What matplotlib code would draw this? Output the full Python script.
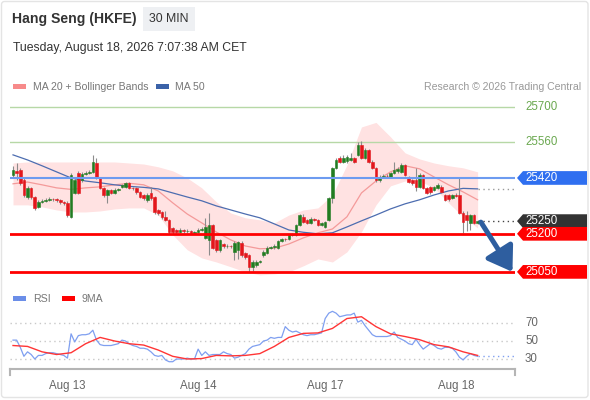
import numpy as np
import matplotlib
matplotlib.use("Agg")
import matplotlib.pyplot as plt
from matplotlib.patches import Rectangle, Polygon, FancyBboxPatch
from matplotlib.transforms import blended_transform_factory

plt.rcParams['font.family'] = ['Liberation Sans', 'DejaVu Sans']

# ---- 30 min candles (Aug 12 night .. Aug 18 morning) ----
opens = [25432, 25448, 25452, 25412, 25345, 25381, 25345, 25306, 25326, 25330,
         25334, 25338, 25336, 25332, 25326, 25322, 25268, 25362, 25440, 25412,
         25436, 25440, 25444, 25480, 25420, 25381, 25353, 25373, 25361, 25373,
         25385, 25385, 25400, 25381, 25381, 25365, 25353, 25334, 25361, 25345,
         25294, 25286, 25266, 25255, 25223, 25215, 25208, 25215, 25210, 25212,
         25204, 25208, 25215, 25184, 25176, 25235, 25176, 25137, 25160, 25150,
         25152, 25130, 25137, 25165, 25125, 25117, 25070, 25078, 25090, 25117,
         25125, 25145, 25147, 25145, 25172, 25180, 25180, 25196, 25196, 25235,
         25266, 25255, 25243, 25259, 25255, 25235, 25227, 25255, 25341, 25460,
         25500, 25483, 25485, 25491, 25497, 25511, 25550, 25500, 25531, 25483,
         25460, 25412, 25424, 25428, 25424, 25440, 25446, 25444, 25471, 25420,
         25412, 25412, 25385, 25432, 25381, 25385, 25373, 25381, 25385, 25353,
         25353, 25341, 25353, 25353, 25282, 25274, 25243, 25274, 25243]
highs = [25468, 25480, 25460, 25420, 25389, 25385, 25350, 25334, 25336, 25340,
         25345, 25342, 25340, 25336, 25330, 25328, 25440, 25420, 25448, 25442,
         25448, 25450, 25511, 25498, 25425, 25385, 25378, 25378, 25380, 25381,
         25398, 25405, 25405, 25386, 25385, 25368, 25358, 25360, 25385, 25350,
         25298, 25290, 25290, 25260, 25228, 25220, 25222, 25220, 25218, 25216,
         25213, 25222, 25225, 25262, 25282, 25240, 25180, 25180, 25165, 25158,
         25156, 25172, 25172, 25170, 25130, 25120, 25095, 25095, 25097, 25135,
         25150, 25152, 25158, 25176, 25185, 25185, 25200, 25204, 25240, 25280,
         25280, 25260, 25265, 25262, 25258, 25248, 25252, 25345, 25465, 25500,
         25505, 25510, 25512, 25520, 25502, 25560, 25565, 25540, 25535, 25490,
         25465, 25430, 25434, 25434, 25445, 25483, 25462, 25478, 25476, 25426,
         25416, 25460, 25440, 25436, 25385, 25390, 25390, 25400, 25392, 25358,
         25357, 25358, 25360, 25420, 25290, 25290, 25280, 25278, 25255]
lows = [25424, 25412, 25393, 25345, 25338, 25338, 25294, 25302, 25320, 25325,
        25330, 25330, 25326, 25318, 25312, 25265, 25262, 25355, 25355, 25405,
        25430, 25435, 25440, 25415, 25375, 25345, 25322, 25355, 25355, 25368,
        25380, 25381, 25375, 25374, 25358, 25340, 25335, 25325, 25335, 25280,
        25275, 25260, 25250, 25200, 25200, 25203, 25203, 25205, 25205, 25198,
        25200, 25204, 25210, 25180, 25117, 25140, 25130, 25130, 25145, 25146,
        25145, 25097, 25100, 25110, 25100, 25050, 25055, 25070, 25085, 25110,
        25120, 25140, 25142, 25140, 25168, 25172, 25176, 25190, 25190, 25230,
        25242, 25238, 25238, 25250, 25230, 25230, 25222, 25250, 25320, 25455,
        25478, 25478, 25480, 25487, 25478, 25505, 25495, 25495, 25478, 25455,
        25405, 25405, 25420, 25420, 25418, 25436, 25440, 25440, 25426, 25400,
        25393, 25370, 25380, 25375, 25355, 25358, 25368, 25378, 25360, 25330,
        25330, 25336, 25345, 25278, 25204, 25210, 25215, 25238, 25238]
closes = [25452, 25440, 25400, 25353, 25381, 25345, 25302, 25326, 25330, 25334,
          25338, 25336, 25332, 25324, 25320, 25275, 25432, 25412, 25362, 25436,
          25440, 25444, 25483, 25420, 25381, 25353, 25373, 25361, 25373, 25375,
          25393, 25400, 25381, 25380, 25365, 25345, 25341, 25353, 25341, 25286,
          25282, 25266, 25255, 25208, 25208, 25208, 25215, 25210, 25212, 25204,
          25208, 25215, 25218, 25227, 25235, 25145, 25137, 25176, 25150, 25152,
          25150, 25165, 25168, 25117, 25109, 25070, 25090, 25090, 25092, 25129,
          25145, 25147, 25152, 25172, 25180, 25178, 25196, 25198, 25235, 25274,
          25247, 25243, 25259, 25255, 25235, 25243, 25247, 25341, 25460, 25491,
          25483, 25500, 25503, 25497, 25483, 25550, 25500, 25531, 25483, 25460,
          25412, 25424, 25428, 25426, 25440, 25452, 25456, 25471, 25432, 25405,
          25400, 25385, 25432, 25381, 25361, 25365, 25385, 25393, 25365, 25334,
          25338, 25353, 25350, 25282, 25247, 25255, 25274, 25243, 25250]

# ---- indicators, read every 4th candle ----
band_idx = list(range(0, 129, 4))
ma20 = [25397, 25404, 25393, 25381, 25375, 25381, 25385, 25393, 25399, 25393,
        25369, 25322, 25278, 25243, 25207, 25176, 25152, 25141, 25143, 25160,
        25184, 25204, 25219, 25267, 25361, 25408, 25444, 25468, 25456, 25424,
        25393, 25365, 25334]
bb_upper = [25479, 25483, 25483, 25483, 25483, 25483, 25483, 25483, 25479, 25475,
            25464, 25448, 25420, 25381, 25326, 25282, 25263, 25255, 25243, 25274,
            25294, 25302, 25353, 25471, 25621, 25639, 25582, 25519, 25495, 25479,
            25468, 25460, 25444]
bb_lower = [25314, 25314, 25306, 25294, 25286, 25286, 25290, 25298, 25302, 25302,
            25274, 25196, 25137, 25105, 25089, 25070, 25050, 25038, 25042, 25050,
            25074, 25101, 25089, 25129, 25208, 25314, 25389, 25408, 25408, 25381,
            25322, 25267, 25223]
ma50 = [25511, 25491, 25468, 25444, 25420, 25408, 25401, 25393, 25387, 25383,
        25377, 25361, 25345, 25330, 25310, 25294, 25278, 25263, 25239, 25215,
        25206, 25200, 25204, 25227, 25251, 25274, 25298, 25318, 25334, 25353,
        25369, 25379, 25377]

rsi = [51, 51, 43, 33, 38, 35, 30, 34, 34, 36, 37, 37, 36, 35, 34, 31, 58, 49, 56, 57,
       57, 58, 62, 51, 46, 45, 45, 45, 46, 47, 51, 50, 47, 45, 44, 42, 42, 41, 38, 34,
       33, 34, 29, 27, 27, 30, 30, 30, 31, 30, 30, 41, 34, 38, 34, 35, 35, 35, 38, 36,
       35, 31, 32, 34, 36, 41, 44, 45, 46, 50, 51, 54, 53, 54, 54, 66, 62, 60, 61, 59,
       57, 56, 57, 57, 58, 59, 75, 81, 83, 81, 77, 78, 79, 79, 81, 71, 73, 67, 62, 57,
       55, 55, 55, 55, 56, 60, 54, 52, 50, 47, 46, 52, 46, 41, 44, 47, 45, 42, 41, 43,
       43, 42, 38, 32, 29, 33, 36, 34, 33]
rsi_ma9 = [45, 44, 38, 35, 37, 47, 54, 50, 47, 45.5, 40, 33, 30, 30.5, 34, 33.5, 34,
           36, 44, 54, 58.5, 59, 64, 75, 77, 66, 58, 55, 51.5, 46, 43.5, 38, 34]

day_ticks = [15, 51, 86, 122]
day_labels = ['Aug 13', 'Aug 14', 'Aug 17', 'Aug 18']

levels_res = [25700, 25560]
level_pivot = 25420
level_last = 25250
levels_sup = [25200, 25050]

GREEN = '#217c21'
RED = '#e3161b'

fig = plt.figure(figsize=(5.9, 4), dpi=100)
ov = fig.add_axes([0, 0, 1, 1])
ov.set_xlim(0, 590)
ov.set_ylim(400, 0)
ov.axis('off')


def px_axes(l, t, r, b):
    a = fig.add_axes([l / 590, 1 - b / 400, (r - l) / 590, (b - t) / 400])
    a.patch.set_alpha(0)
    return a


ax = px_axes(10, 97, 515, 280)
rx = px_axes(10, 300, 515, 369)
xmin, xmax = -0.83, 138.3

# ---- price panel ----
o = np.array(opens)
h = np.array(highs)
l = np.array(lows)
c = np.array(closes)
idx = np.arange(len(c))
col = np.where(c >= o, GREEN, RED)

ax.fill_between(band_idx, bb_lower, bb_upper, color='#ffe2e2', lw=0, zorder=1)
ax.plot(band_idx, ma20, color='#f49a9a', lw=0.9, zorder=2)
ax.plot(band_idx, ma50, color='#4d6db0', lw=0.9, zorder=2)

for v in levels_res:
    ax.axhline(v, color='#b7d8a6', lw=1, zorder=2)

ax.vlines(idx, l, h, color='#8c8c8c', lw=0.8, zorder=3)
ax.bar(idx, np.abs(c - o), bottom=np.minimum(o, c), width=0.72,
       color=col, edgecolor=col, lw=0.4, zorder=4)

ax.axhline(level_pivot, color='#6d9bf0', lw=1.5, zorder=5)
for v in levels_sup:
    ax.axhline(v, color='#ff0000', lw=2, zorder=5)

ax.plot([idx[-1], xmax], [ma50[-1], ma50[-1]], color='#9a9a9a', lw=1,
        ls=(0, (1, 2.5)), zorder=3)
ax.plot([idx[-1], xmax], [level_last, level_last], color='#444444', lw=1,
        ls=(0, (1, 2.5)), zorder=3)

ax.annotate('', xy=(137.6, 25050), xytext=(128.9, 25246),
            arrowprops=dict(arrowstyle='-|>,head_length=0.9,head_width=0.6',
                            color='#2e5e9f', lw=3.6, mutation_scale=16,
                            shrinkA=0, shrinkB=0), zorder=6)

ax.set_xlim(xmin, xmax)
ax.set_ylim(25018, 25739)
ax.set_xticks([])
ax.set_yticks([])
for s in ax.spines.values():
    s.set_visible(False)

# right-hand price labels
tr = blended_transform_factory(ax.transAxes, ax.transData)
for v in levels_res:
    ax.text(1 + 10 / 505, v, str(v), transform=tr, va='center', ha='left',
            fontsize=8.3, color='#6aa84f', clip_on=False)


def tag(v, fc):
    hh = 27
    pts = [(1 + 2 / 505, v), (1 + 8 / 505, v + hh), (1 + 72 / 505, v + hh),
           (1 + 72 / 505, v - hh), (1 + 8 / 505, v - hh)]
    ax.add_patch(Polygon(pts, closed=True, transform=tr, fc=fc, ec='none',
                         clip_on=False, zorder=7))
    ax.text(1 + 10 / 505, v, str(v), transform=tr, va='center', ha='left',
            fontsize=8.3, color='white', clip_on=False, zorder=8)


tag(level_pivot, '#2f6ff0')
tag(level_last, '#333333')
for v in levels_sup:
    tag(v, '#ff0000')

# ---- RSI panel ----
for v in [30, 50, 70]:
    rx.axhline(v, color='#c8c8c8', lw=1, ls=(0, (1, 2.5)), zorder=1)
    rx.text(1 + 10 / 505, v, str(v), transform=blended_transform_factory(rx.transAxes, rx.transData),
            va='center', ha='left', fontsize=8.3, color='#666666', clip_on=False)
rx.plot(idx, rsi, color='#7f9ff0', lw=0.9, zorder=2)
rx.plot([idx[-1], xmax], [rsi[-1], rsi[-1]], color='#7f9ff0', lw=1,
        ls=(0, (1, 2.5)), zorder=2)
rx.plot(band_idx, rsi_ma9, color='#ff3535', lw=1, zorder=3)
rx.set_xlim(xmin, xmax)
rx.set_ylim(18.9, 95.6)
rx.set_yticks([])
rx.set_xticks(day_ticks)
rx.set_xticklabels(day_labels, fontsize=8.3, color='#666666')
rx.tick_params(axis='x', length=0, pad=8)
for k in ['top', 'left', 'right']:
    rx.spines[k].set_visible(False)
rx.spines['bottom'].set_color('#b5b5b5')
rx.spines['bottom'].set_linewidth(1.5)

# ---- header, legends, frame ----
ov.add_patch(FancyBboxPatch((1.5, 1.5), 586.5, 396, boxstyle='round,pad=0,rounding_size=3',
                            fc='none', ec='#e4e4e4', lw=1))
ov.text(12, 19, 'Hang Seng (HKFE)', fontsize=10.1, fontweight='bold', color='#333333', va='center')
ov.add_patch(Rectangle((143, 7), 52, 24, fc='#eef0f3', ec='none'))
ov.text(169, 19.5, '30 MIN', ha='center', va='center', fontsize=8.8, color='#333333')
ov.text(13, 48, 'Tuesday, August 18, 2026 7:07:38 AM CET', fontsize=8.8,
        color='#333333', va='center')

ov.add_patch(Rectangle((13, 84), 13, 5, fc='#f78a8a', ec='none'))
ov.text(33, 86.5, 'MA 20 + Bollinger Bands', fontsize=7.6, color='#777777', va='center')
ov.add_patch(Rectangle((156, 84), 13, 5, fc='#3b62a8', ec='none'))
ov.text(175, 86.5, 'MA 50', fontsize=7.6, color='#777777', va='center')
ov.text(581, 86.5, 'Research \u00a9 2026 Trading Central', fontsize=7.6, color='#999999',
        va='center', ha='right')

ov.add_patch(Rectangle((13, 296), 13, 5, fc='#6b8ee8', ec='none'))
ov.text(33, 298.5, 'RSI', fontsize=7.6, color='#777777', va='center')
ov.add_patch(Rectangle((62, 296), 13, 5, fc='#ff0000', ec='none'))
ov.text(82, 298.5, '9MA', fontsize=7.6, color='#777777', va='center')

ov.plot([10, 10], [369, 375], color='#b5b5b5', lw=1.5)
ov.plot([515, 515], [369, 375], color='#b5b5b5', lw=1.5)

fig.savefig('out.png', dpi=100)
